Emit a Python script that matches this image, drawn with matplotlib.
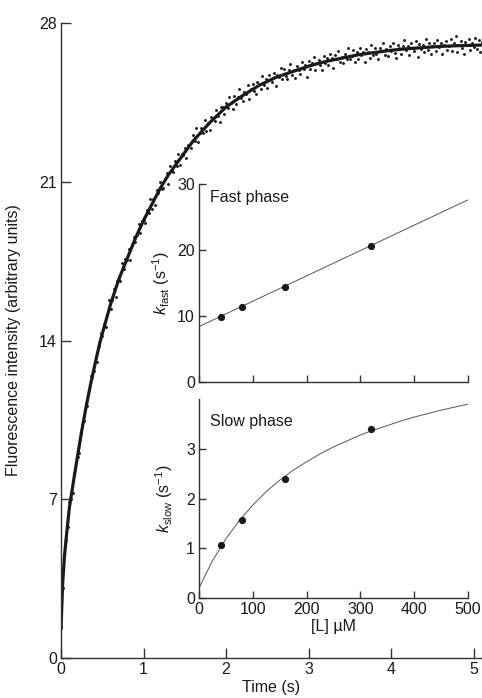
# Stopped-flow fluorescence trace with rate constant insets
import numpy as np
import matplotlib
matplotlib.use("Agg")
from matplotlib import pyplot as plt

plt.rcParams['font.family'] = ['Liberation Sans', 'DejaVu Sans']
plt.rcParams['mathtext.fontset'] = 'custom'
plt.rcParams['mathtext.rm'] = 'Liberation Sans'
plt.rcParams['mathtext.it'] = 'Liberation Sans:italic'

# Raw trace, one reading every 20 ms
dt = 0.02
intensity = [
    1.35, 3.09, 4.58, 5.22, 5.78, 6.87, 7.02, 7.28, 8.14, 8.64,
    8.87, 9.04, 9.91, 10.26, 10.43, 11.24, 11.13, 11.84, 12.43, 12.40,
    12.66, 13.29, 13.04, 13.76, 14.32, 14.21, 14.75, 14.61, 15.17, 15.77,
    15.41, 15.78, 16.26, 15.92, 16.62, 16.74, 16.64, 17.41, 17.14, 17.61,
    17.53, 18.03, 17.57, 18.23, 18.56, 18.35, 18.64, 19.15, 18.74, 19.28,
    19.32, 19.17, 19.77, 19.64, 20.24, 19.82, 20.25, 19.98, 20.65, 20.51,
    21.00, 20.67, 20.72, 21.12, 21.38, 20.90, 21.68, 21.50, 21.44, 21.92,
    21.71, 22.24, 21.75, 22.21, 22.18, 22.50, 22.05, 22.64, 22.66, 22.51,
    23.06, 22.81, 23.37, 22.75, 23.15, 23.35, 23.16, 23.73, 23.24, 23.61,
    23.29, 23.86, 23.79, 23.67, 24.17, 23.90, 23.65, 24.30, 24.28, 23.99,
    24.46, 24.25, 24.73, 24.46, 24.23, 24.79, 24.44, 24.73, 25.10, 24.69,
    24.58, 24.98, 24.85, 25.25, 24.64, 25.10, 25.29, 25.01, 24.88, 25.39,
    25.29, 25.10, 25.68, 25.28, 25.54, 25.13, 25.73, 25.52, 25.40, 25.78,
    25.21, 25.73, 25.63, 26.00, 25.53, 25.98, 25.67, 25.52, 25.94, 26.21,
    25.73, 25.94, 25.57, 26.12, 25.95, 25.77, 26.30, 25.96, 26.16, 25.64,
    26.33, 25.97, 26.22, 26.51, 25.91, 26.23, 26.39, 26.14, 25.94, 26.54,
    26.25, 26.46, 26.13, 26.64, 26.45, 26.02, 26.59, 26.40, 26.75, 26.26,
    26.52, 26.23, 26.64, 26.41, 26.92, 26.40, 26.55, 26.80, 26.27, 26.71,
    26.43, 26.89, 26.58, 26.73, 26.26, 26.84, 26.71, 26.45, 27.02, 26.58,
    26.91, 26.65, 26.43, 26.88, 26.77, 27.12, 26.60, 26.85, 26.53, 26.97,
    26.78, 27.11, 26.67, 26.47, 27.05, 26.90, 26.65, 26.98, 27.25, 26.79,
    26.98, 26.61, 27.13, 26.89, 26.77, 27.22, 26.50, 27.08, 26.85, 27.01,
    26.71, 27.29, 26.83, 27.14, 26.63, 26.99, 27.10, 26.78, 27.23, 26.94,
    27.10, 26.64, 27.05, 27.22, 26.83, 26.98, 27.30, 26.76, 27.10, 27.42,
    26.74, 27.05, 27.19, 26.89, 26.64, 27.17, 27.03, 27.30, 26.82, 27.11,
    26.94, 27.35, 26.87, 27.24, 26.74, 27.15,
]
time = np.arange(len(intensity)) * dt

# Fitted curve through the trace
fit_time = [0.0, 0.02, 0.04, 0.06, 0.08, 0.10, 0.13, 0.16, 0.20, 0.25,
            0.30, 0.36, 0.42, 0.47, 0.50, 0.60, 0.70, 0.80, 0.90, 1.00,
            1.10, 1.20, 1.30, 1.40, 1.50, 1.60, 1.70, 1.80, 1.90, 2.00,
            2.20, 2.40, 2.60, 2.80, 3.00, 3.20, 3.40, 3.60, 3.80, 4.00,
            4.20, 4.40, 4.60, 4.80, 5.00, 5.10]
fit_intensity = [1.3, 3.3, 4.4, 5.2, 5.9, 6.6, 7.3, 8.0, 8.9, 10.0,
                 11.0, 12.1, 13.1, 13.9, 14.3, 15.6, 16.7, 17.6, 18.5, 19.3,
                 20.0, 20.7, 21.3, 21.8, 22.3, 22.8, 23.2, 23.6, 23.95, 24.3,
                 24.8, 25.25, 25.6, 25.85, 26.1, 26.3, 26.45, 26.6, 26.7, 26.8,
                 26.87, 26.92, 26.97, 27.0, 27.02, 27.03]

# Insets: observed rate constants against ligand concentration
conc = [40, 80, 160, 320]
k_fast = [9.8, 11.4, 14.4, 20.6]
k_slow = [1.06, 1.56, 2.39, 3.41]

fast_line_conc = [0, 500]
fast_line_k = [8.4, 27.6]

slow_curve_conc = [0, 25, 50, 75, 100, 125, 150, 175, 200, 225, 250,
                   275, 300, 325, 350, 375, 400, 425, 450, 475, 500]
slow_curve_k = [0.20, 0.75, 1.19, 1.56, 1.87, 2.14, 2.37, 2.57, 2.74, 2.90, 3.04,
                3.16, 3.28, 3.38, 3.47, 3.56, 3.64, 3.71, 3.78, 3.84, 3.90]

main_yticks = [0, 7, 14, 21, 28]
main_xticks = [0, 1, 2, 3, 4, 5]
inset_xticks = [0, 100, 200, 300, 400, 500]

ink = '#1a1a1a'
spine_col = '#333333'
fs = 11.5

fig = plt.figure(figsize=(4.82, 6.98), dpi=100)


def style(ax, length):
    for side in ['top', 'right']:
        ax.spines[side].set_visible(False)
    for side in ['left', 'bottom']:
        ax.spines[side].set_color(spine_col)
        ax.spines[side].set_linewidth(1.0)
    ax.tick_params(direction='in', length=length, width=1.0, color=spine_col,
                   labelsize=fs, labelcolor=ink, pad=3)


# Main trace
ax = fig.add_axes([0.1266, 0.0573, 0.8734, 0.9097])
ax.plot(time, intensity, linestyle='none', marker='o', markersize=2.1,
        color=ink, markeredgewidth=0)
ax.plot(fit_time, fit_intensity, color=ink, linewidth=2.3)
ax.set_xlim(0, 5.1)
ax.set_ylim(0, 28)
ax.set_xticks(main_xticks)
ax.set_yticks(main_yticks)
style(ax, 7)
ax.set_xlabel("Time (s)", fontsize=fs, color=ink, labelpad=2)
ax.set_ylabel("Fluorescence intensity (arbitrary units)", fontsize=fs,
              color=ink, labelpad=13)

# Fast phase inset
ax1 = fig.add_axes([0.4129, 0.4527, 0.558, 0.2837])
ax1.set_facecolor('none')
ax1.plot(fast_line_conc, fast_line_k, color='#555555', linewidth=0.7)
ax1.plot(conc, k_fast, linestyle='none', marker='o', markersize=4.2, color=ink)
ax1.set_xlim(0, 500)
ax1.set_ylim(0, 30)
ax1.set_xticks(inset_xticks)
ax1.set_xticklabels([])
ax1.set_yticks([0, 10, 20, 30])
style(ax1, 5)
ax1.set_ylabel(r"$k_{\mathrm{fast}}$ (s$^{-1}$)", fontsize=fs, color=ink, labelpad=4)
ax1.text(0.04, 0.93, "Fast phase", transform=ax1.transAxes, fontsize=fs,
         color=ink, va='center', ha='left')

# Slow phase inset
ax2 = fig.add_axes([0.4129, 0.1433, 0.558, 0.2848])
ax2.set_facecolor('none')
ax2.plot(slow_curve_conc, slow_curve_k, color='#555555', linewidth=0.7)
ax2.plot(conc, k_slow, linestyle='none', marker='o', markersize=4.2, color=ink)
ax2.set_xlim(0, 500)
ax2.set_ylim(0, 4)
ax2.set_xticks(inset_xticks)
ax2.set_yticks([0, 1, 2, 3])
style(ax2, 5)
ax2.set_xlabel("[L] µM", fontsize=fs, color=ink, labelpad=1)
ax2.set_ylabel(r"$k_{\mathrm{slow}}$ (s$^{-1}$)", fontsize=fs, color=ink, labelpad=8)
ax2.text(0.04, 0.89, "Slow phase", transform=ax2.transAxes, fontsize=fs,
         color=ink, va='center', ha='left')

fig.savefig("out.png", dpi=100)
